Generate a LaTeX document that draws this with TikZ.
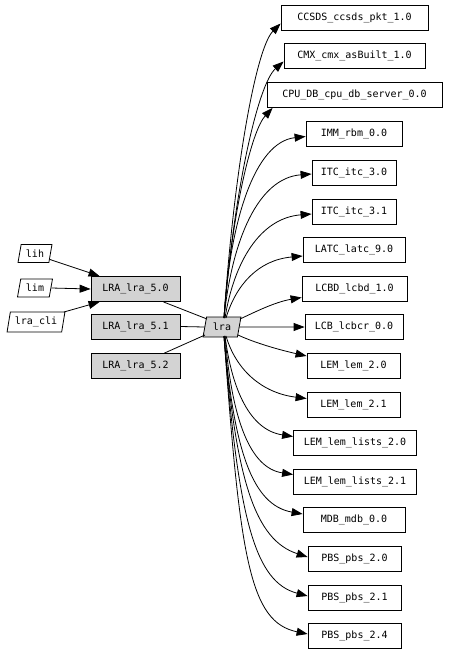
\documentclass[tikz,border=0pt]{standalone}
\usepackage{fontspec}
\setmonofont{DejaVu Sans Mono}
\usetikzlibrary{arrows.meta,shapes.geometric,calc}
\definecolor{gvgray}{RGB}{211,211,211}
\begin{document}
\begin{tikzpicture}[x=1pt,y=-1pt,
  font=\ttfamily\fontsize{10}{12}\selectfont,
  box/.style={draw, line width=0.8pt, rectangle, minimum height=25pt, inner sep=0pt},
  gbox/.style={box, fill=gvgray},
  para/.style={draw, line width=0.8pt, trapezium, trapezium left angle=75, trapezium right angle=105, trapezium stretches=true, inner sep=0pt},
  edge/.style={line width=0.8pt, -{Triangle[length=11pt,width=8pt]}},
  link/.style={line width=0.8pt}]
\useasboundingbox (0,0) rectangle (450,653);
% right column
\node[box, minimum width=147pt] (ccsds) at (354.5,17.5) {CCSDS\_ccsds\_pkt\_1.0};
\node[box, minimum width=141pt] (cmx) at (354.5,55.5) {CMX\_cmx\_asBuilt\_1.0};
\node[box, minimum width=175pt] (cpu) at (354.5,95) {CPU\_DB\_cpu\_db\_server\_0.0};
\node[box, minimum width=96pt] (imm) at (354,133.5) {IMM\_rbm\_0.0};
\node[box, minimum width=84pt] (itca) at (354,173) {ITC\_itc\_3.0};
\node[box, minimum width=84pt] (itcb) at (354,212) {ITC\_itc\_3.1};
\node[box, minimum width=102pt] (latc) at (354,250) {LATC\_latc\_9.0};
\node[box, minimum width=105pt] (lcbd) at (354.5,288.5) {LCBD\_lcbd\_1.0};
\node[box, minimum width=98pt] (lcb) at (354,327) {LCB\_lcbcr\_0.0};
\node[box, minimum width=93pt] (lema) at (353.5,366) {LEM\_lem\_2.0};
\node[box, minimum width=93pt] (lemb) at (353.5,404.5) {LEM\_lem\_2.1};
\node[box, minimum width=123pt] (lista) at (355,442.5) {LEM\_lem\_lists\_2.0};
\node[box, minimum width=123pt] (listb) at (355,481.5) {LEM\_lem\_lists\_2.1};
\node[box, minimum width=102pt] (mdb) at (354,520) {MDB\_mdb\_0.0};
\node[box, minimum width=93pt] (pbsa) at (354.5,559) {PBS\_pbs\_2.0};
\node[box, minimum width=93pt] (pbsb) at (354.5,597.5) {PBS\_pbs\_2.1};
\node[box, minimum width=93pt] (pbsc) at (354.5,636) {PBS\_pbs\_2.4};
% left part
\node[gbox, minimum width=89pt] (l50) at (135.5,289) {LRA\_lra\_5.0};
\node[gbox, minimum width=89pt] (l51) at (135.5,326.5) {LRA\_lra\_5.1};
\node[gbox, minimum width=89pt] (l52) at (135.5,366) {LRA\_lra\_5.2};
\node[para, fill=gvgray, minimum width=38pt, minimum height=20pt] (lra) at (222,327) {lra};
\node[para, minimum width=34pt, minimum height=18pt] (lih) at (35,253.5) {lih};
\node[para, minimum width=35pt, minimum height=18pt] (lim) at (35,288) {lim};
\node[para, minimum width=58pt, minimum height=20pt] (cli) at (36,322) {lra\_cli};
% left edges
\draw[edge] ($(lih)+(15,6)$) -- ($(l50.north west)+(9,0)$);
\draw[edge] (lim.east) -- (l50.west);
\draw[edge] ($(cli)+(28,-10)$) -- ($(l50.south west)+(9,0)$);
\draw[link] ($(l50.south east)+(-17,0)$) -- ($(lra)+(-15,-8)$);
\draw[link] (l51.east) -- (lra.west);
\draw[link] ($(l52.north east)+(-16,0)$) -- ($(lra)+(-17,8)$);
% fan-out edges
\draw[edge] ($(lra)+(2,-9)$) .. controls (234,170) and (256,48) .. ($(ccsds.west)+(0,6)$);
\draw[edge] ($(lra)+(2,-9)$) .. controls (234,190) and (258,84) .. ($(cmx.west)+(0,6)$);
\draw[edge] ($(lra)+(2,-9)$) .. controls (232,210) and (252,130) .. ($(cpu.south west)+(6,0)$);
\draw[edge] ($(lra)+(2,-9)$) .. controls (230,220) and (255,142) .. ($(imm.west)+(0,3)$);
\draw[edge] ($(lra)+(2,-9)$) .. controls (232,240) and (258,178) .. ($(itca.west)+(0,1)$);
\draw[edge] ($(lra)+(3,-9)$) .. controls (234,262) and (260,218) .. ($(itcb.west)+(0,2)$);
\draw[edge] ($(lra)+(4,-9)$) .. controls (236,285) and (258,260) .. ($(latc.west)+(0,6)$);
\draw[edge] ($(lra)+(18,-8)$) .. controls (255,312) and (275,302) .. ($(lcbd.west)+(0,9)$);
\draw[edge] (lra.east) -- (lcb.west);
\draw[edge] ($(lra)+(16,8)$) .. controls (255,343) and (280,350) .. ($(lema.west)+(0,-10)$);
\draw[edge] ($(lra)+(4,9)$) .. controls (236,370) and (262,393) .. ($(lemb.west)+(0,-6)$);
\draw[edge] ($(lra)+(3,9)$) .. controls (232,390) and (250,430) .. ($(lista.west)+(0,-6)$);
\draw[edge] ($(lra)+(3,9)$) .. controls (232,420) and (250,468) .. ($(listb.west)+(0,-7)$);
\draw[edge] ($(lra)+(2,9)$) .. controls (234,450) and (252,505) .. ($(mdb.west)+(0,-6)$);
\draw[edge] ($(lra)+(2,9)$) .. controls (236,480) and (255,540) .. ($(pbsa.west)+(0,-2)$);
\draw[edge] ($(lra)+(2,9)$) .. controls (238,520) and (255,582) .. ($(pbsb.west)+(0,-1.5)$);
\draw[edge] ($(lra)+(2,9)$) .. controls (240,560) and (250,622) .. ($(pbsc.west)+(0,-2)$);
\end{tikzpicture}
\end{document}
